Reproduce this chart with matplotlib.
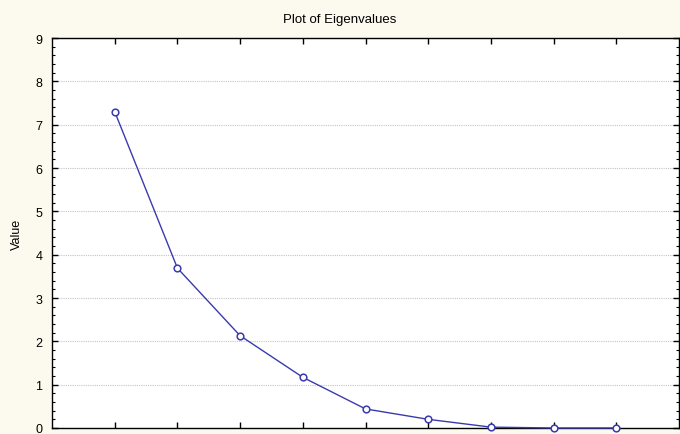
import numpy as np
import matplotlib
matplotlib.use("Agg")
from matplotlib import pyplot as plt
from matplotlib.ticker import MultipleLocator, NullFormatter

# eigenvalue number and value
factors = [1, 2, 3, 4, 5, 6, 7, 8, 9]
eigenvalues = [7.30, 3.69, 2.13, 1.17, 0.44, 0.20, 0.02, 0.0, 0.0]
y_ticks = list(range(10))

bg = "#fcf9ee"
line_col = "#3a3aae"

plt.rcParams["font.family"] = ["Liberation Sans", "DejaVu Sans"]

fig = plt.figure(figsize=(6.8, 4.35), dpi=100, facecolor=bg)
ax = fig.add_axes([0.0765, 0.0138, 0.922, 0.8965])
ax.set_facecolor("white")

ax.plot(factors, eigenvalues, color=line_col, lw=1.0, marker="o", ms=4.8,
        mfc="white", mec=line_col, mew=1.1, zorder=3, clip_on=False)

ax.set_xlim(0, 10)
ax.set_ylim(0, 9)
ax.set_yticks(y_ticks)
ax.yaxis.set_minor_locator(MultipleLocator(0.2))
ax.set_xticks(factors)
ax.xaxis.set_major_formatter(NullFormatter())
ax.grid(axis="y", which="major", color="#c4c4c4", ls=(0, (1, 1)), lw=0.8)

ax.tick_params(axis="both", which="both", direction="in", colors="black",
               left=True, right=True, top=True, bottom=True)
ax.tick_params(axis="y", which="major", length=4, width=1, labelsize=9, pad=7)
ax.tick_params(axis="y", which="minor", length=2, width=0.8)
ax.tick_params(axis="x", which="major", length=4, width=1)

for s in ax.spines.values():
    s.set_color("black")
    s.set_linewidth(1.0)

ax.set_ylabel("Value", fontsize=9, labelpad=9)
fig.text(0.5, 0.955, "Plot of Eigenvalues", ha="center", va="center", fontsize=9.5)

fig.savefig("out.png", dpi=100, facecolor=bg)
